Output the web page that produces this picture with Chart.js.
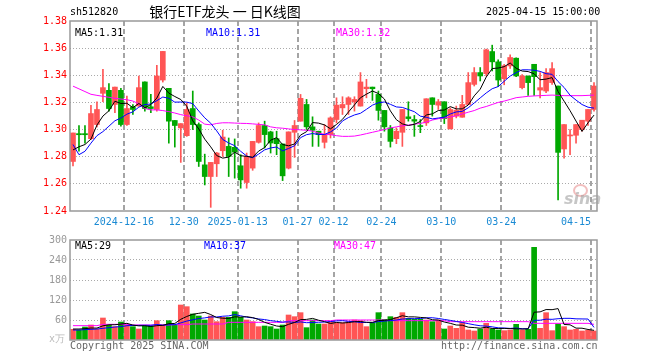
<!DOCTYPE html>
<html>
<head>
<meta charset="utf-8">
<script src="https://cdn.jsdelivr.net/npm/chart.js@4.4.1/dist/chart.umd.min.js"></script>
<style>
  body { margin: 0; background: #fff; width: 660px; height: 360px; overflow: hidden; position: relative; }
  .t { position: absolute; white-space: nowrap; font-family: "DejaVu Sans Mono", monospace; font-size: 10px; line-height: 12px; color: #000; }
  canvas { position: absolute; left: 0; }
  #priceChart { top: 0; }
  #volChart { top: 230px; }
  .eye { position: absolute; left: 573px; top: 184px; width: 11px; height: 9px; border: 2px solid rgba(225,110,110,0.45); border-radius: 50%; }
</style>
</head>
<body>
<canvas id="priceChart" width="660" height="230"></canvas>
<canvas id="volChart" width="660" height="130"></canvas>

<div class="t" style="left:70px;top:6px">sh512820</div>
<div class="t" style="left:140px;top:3px;width:170px;text-align:center;font-family:'Noto Sans CJK SC',sans-serif;font-size:14px;line-height:17px">银行ETF龙头 一 日K线图</div>
<div class="t" style="left:486px;top:6px">2025-04-15 15:00:00</div>

<div class="t" style="left:75px;top:27px">MA5:1.31</div>
<div class="t" style="left:206px;top:27px;color:#0000ff">MA10:1.31</div>
<div class="t" style="left:336px;top:27px;color:#ff00ff">MA30:1.32</div>

<div class="t" style="left:75px;top:240px">MA5:29</div>
<div class="t" style="left:204px;top:240px;color:#0000ff">MA10:37</div>
<div class="t" style="left:334px;top:240px;color:#ff00ff">MA30:47</div>

<div class="t" style="left:49px;top:333px;color:#bbb">x万</div>
<div class="t" style="left:70px;top:340px;color:#666">Copyright 2025 SINA.COM</div>
<div class="t" style="left:441px;top:340px;color:#666">http://finance.sina.com.cn</div>
<div class="eye"></div>
<div class="t" style="left:564px;top:193px;font-family:'DejaVu Sans',sans-serif;font-size:16px;font-weight:bold;font-style:italic;color:rgba(160,160,160,0.6)">sina</div>

<script>
const UP = '#ff5555';
const DOWN = '#00a800';

const dates = [
  '2024-12-03','2024-12-04','2024-12-05','2024-12-06','2024-12-09','2024-12-10','2024-12-11','2024-12-12','2024-12-13',
  '2024-12-16','2024-12-17','2024-12-18','2024-12-19','2024-12-20','2024-12-23','2024-12-24','2024-12-25','2024-12-26','2024-12-27',
  '2024-12-30','2024-12-31','2025-01-02','2025-01-03','2025-01-06','2025-01-07','2025-01-08','2025-01-09','2025-01-10',
  '2025-01-13','2025-01-14','2025-01-15','2025-01-16','2025-01-17','2025-01-20','2025-01-21','2025-01-22','2025-01-23','2025-01-24',
  '2025-01-27','2025-02-05','2025-02-06','2025-02-07','2025-02-10','2025-02-11',
  '2025-02-12','2025-02-13','2025-02-14','2025-02-17','2025-02-18','2025-02-19','2025-02-20','2025-02-21',
  '2025-02-24','2025-02-25','2025-02-26','2025-02-27','2025-02-28','2025-03-03','2025-03-04','2025-03-05','2025-03-06','2025-03-07',
  '2025-03-10','2025-03-11','2025-03-12','2025-03-13','2025-03-14','2025-03-17','2025-03-18','2025-03-19','2025-03-20','2025-03-21',
  '2025-03-24','2025-03-25','2025-03-26','2025-03-27','2025-03-28','2025-03-31','2025-04-01','2025-04-02','2025-04-03',
  '2025-04-07','2025-04-08','2025-04-09','2025-04-10','2025-04-11','2025-04-14','2025-04-15'
];

const tickDates = ['2024-12-16','2024-12-30','2025-01-13','2025-01-27','2025-02-12','2025-02-24','2025-03-10','2025-03-24','2025-04-15'];
const tickText = ['2024-12-16','12-30','2025-01-13','01-27','02-12','02-24','03-10','03-24','04-15'];

const opens = [
  1.2765,1.2970,1.2970,1.2933,1.3037,1.3267,1.3289,1.3185,1.3289,1.3037,
  1.3168,1.3173,1.3351,1.3168,1.3148,1.3365,1.3304,1.3067,1.3012,1.2955,
  1.3155,1.3037,1.2740,1.2654,1.2748,1.2844,1.2876,1.2869,1.2733,1.2610,
  1.2716,1.2906,1.3030,1.2983,1.2933,1.2894,1.2716,1.2980,1.3062,1.3185,
  1.3020,1.2988,1.2906,1.2963,1.3074,1.3160,1.3185,1.3205,1.3173,1.3301,
  1.3313,1.3259,1.3141,1.3012,1.2933,1.2980,1.3094,1.3074,1.3028,1.3049,
  1.3234,1.3180,1.3205,1.3005,1.3099,1.3091,1.3185,1.3333,1.3420,1.3412,
  1.3575,1.3499,1.3375,1.3469,1.3526,1.3309,1.3395,1.3481,1.3291,1.3284,
  1.3346,1.3321,1.2857,1.2953,1.2958,1.3000,1.3062,1.3148
];
const highs = [
  1.2975,1.3030,1.3030,1.3178,1.3205,1.3444,1.3338,1.3313,1.3304,1.3247,
  1.3185,1.3395,1.3351,1.3259,1.3474,1.3576,1.3304,1.3067,1.3044,1.3197,
  1.3284,1.3049,1.2819,1.2758,1.2832,1.2995,1.2938,1.2931,1.2815,1.2827,
  1.2913,1.3049,1.3062,1.2988,1.2988,1.2894,1.2983,1.3067,1.3259,1.3222,
  1.3094,1.2988,1.3037,1.3094,1.3234,1.3242,1.3242,1.3242,1.3420,1.3370,
  1.3313,1.3284,1.3141,1.3030,1.3012,1.3148,1.3205,1.3104,1.3074,1.3227,
  1.3234,1.3222,1.3205,1.3160,1.3173,1.3252,1.3420,1.3457,1.3457,1.3593,
  1.3622,1.3514,1.3480,1.3550,1.3528,1.3405,1.3395,1.3481,1.3420,1.3450,
  1.3494,1.3321,1.3037,1.3000,1.3037,1.3069,1.3148,1.3346
];
const lows = [
  1.2733,1.2840,1.2900,1.2926,1.3020,1.3205,1.3136,1.3124,1.3025,1.3030,
  1.3111,1.3173,1.3136,1.3124,1.3136,1.3350,1.2900,1.2871,1.2758,1.2950,
  1.3000,1.2728,1.2592,1.2427,1.2654,1.2802,1.2654,1.2642,1.2568,1.2568,
  1.2700,1.2900,1.2864,1.2827,1.2815,1.2624,1.2710,1.2795,1.3062,1.3000,
  1.2876,1.2876,1.2864,1.2938,1.3049,1.3111,1.3111,1.3136,1.3173,1.3234,
  1.3215,1.3069,1.2988,1.2871,1.2896,1.2876,1.3062,1.2950,1.2977,1.3030,
  1.3099,1.3148,1.3044,1.3005,1.3086,1.3091,1.3185,1.3321,1.3358,1.3395,
  1.3432,1.3316,1.3330,1.3450,1.3390,1.3300,1.3252,1.3252,1.3234,1.3271,
  1.3333,1.2481,1.2790,1.2815,1.2900,1.2988,1.3030,1.3136
];
const closes = [
  1.2975,1.2962,1.2962,1.3118,1.3148,1.3309,1.3155,1.3313,1.3037,1.3155,
  1.3148,1.3309,1.3155,1.3155,1.3395,1.3576,1.3062,1.3030,1.3044,1.3148,
  1.3037,1.2765,1.2654,1.2758,1.2827,1.2945,1.2802,1.2834,1.2629,1.2802,
  1.2913,1.3030,1.2963,1.2901,1.2896,1.2659,1.2983,1.3030,1.3230,1.3020,
  1.2995,1.2963,1.2963,1.3086,1.3180,1.3185,1.3234,1.3222,1.3351,1.3313,
  1.3301,1.3141,1.3020,1.2913,1.2988,1.3148,1.3081,1.3062,1.3022,1.3227,
  1.3185,1.3205,1.3081,1.3148,1.3143,1.3185,1.3346,1.3420,1.3395,1.3588,
  1.3499,1.3365,1.3470,1.3531,1.3395,1.3395,1.3346,1.3390,1.3309,1.3420,
  1.3449,1.2832,1.3037,1.2958,1.3037,1.3069,1.3148,1.3321
];
// volume, in 10k lots
const volumes = [
  32,30,39,45,33,66,45,40,54,45,
  40,33,42,42,58,45,58,45,105,100,
  78,72,60,72,55,68,68,85,68,60,
  55,40,42,40,33,45,75,70,82,37,
  60,48,48,55,52,52,55,60,58,40,
  52,82,62,70,68,82,65,62,62,60,
  55,60,33,42,35,52,30,27,33,50,
  33,30,28,30,47,30,32,278,35,82,
  28,48,40,30,32,27,29,27
];

const ma5Head = [1.2850,1.2873,1.2890,1.2930];
const ma10Head = [1.2890,1.2815,1.2840,1.2900,1.2955,1.2985,1.3025,1.3065,1.3085];
const ma30 = [
  1.3320,1.3300,1.3280,1.3260,1.3252,1.3245,1.3238,1.3230,1.3225,1.3220,
  1.3210,1.3190,1.3155,1.3145,1.3145,1.3140,1.3132,1.3122,1.3110,1.3102,
  1.3094,1.3070,1.3040,1.3035,1.3045,1.3050,1.3050,1.3048,1.3046,1.3045,
  1.3042,1.3038,1.3035,1.3020,1.3013,1.3010,1.3005,1.3000,1.2998,1.2995,
  1.2988,1.2975,1.2965,1.2962,1.2955,1.2950,1.2950,1.2952,1.2960,1.2970,
  1.2980,1.2990,1.3000,1.3012,1.3020,1.3028,1.3033,1.3040,1.3045,1.3055,
  1.3070,1.3080,1.3085,1.3092,1.3102,1.3115,1.3128,1.3140,1.3158,1.3170,
  1.3185,1.3200,1.3210,1.3222,1.3235,1.3240,1.3245,1.3248,1.3250,1.3252,
  1.3254,1.3252,1.3250,1.3250,1.3250,1.3250,1.3252,1.3254
];
const volMa5Head = [33,33,34,36];
const volMa10Head = [30,30,31,32,33,35,37,39,40];
const volMa30 = [
  43,43,43,43,43,47,47,47,47,47,
  45,45,45,45,45,45,45,46,46,46,
  48,48,48,48,48,48,53,53,53,53,
  53,53,53,53,53,53,58,58,58,58,
  58,58,58,58,60,60,60,60,60,60,
  60,60,60,58,58,58,58,58,58,58,
  58,58,58,55,55,55,55,55,55,55,
  55,55,55,55,55,55,55,50,50,50,
  50,50,50,50,50,50,50,47
];

function movingAvg(arr, n, head) {
  return arr.map((v, i) => {
    if (i < head.length) return head[i];
    let s = 0;
    for (let k = i - n + 1; k <= i; k++) s += arr[k];
    return s / n;
  });
}

const candleColors = closes.map((c, i) => c >= opens[i] ? UP : DOWN);
const tickIdx = tickDates.map(d => dates.indexOf(d));
const MONO = 'DejaVu Sans Mono';

// dashed date lines, grey frame, and the date labels under the price chart
const framePlugin = {
  id: 'frame',
  beforeDatasetsDraw(chart) {
    const { ctx, chartArea: a } = chart;
    const x = chart.scales.x;
    const half = (x.getPixelForValue(1) - x.getPixelForValue(0)) / 2;
    ctx.save();
    ctx.fillStyle = '#a4a4a4';
    for (const idx of tickIdx) {
      const px = Math.round(x.getPixelForValue(idx) - half) - 1;
      // 5px dash, 3px gap
      for (let yy = a.top; yy < a.bottom; yy += 8) {
        ctx.fillRect(px, yy, 2, Math.min(5, a.bottom - yy));
      }
    }
    ctx.restore();
  },
  afterDraw(chart, args, opts) {
    const { ctx, chartArea: a } = chart;
    const x = chart.scales.x;
    const half = (x.getPixelForValue(1) - x.getPixelForValue(0)) / 2;
    ctx.save();
    ctx.strokeStyle = '#999';
    ctx.lineWidth = 1.5;
    ctx.strokeRect(a.left, a.top, a.right - a.left, a.bottom - a.top);
    if (opts.labels) {
      ctx.font = '10px "' + MONO + '"';
      ctx.fillStyle = '#1a8ad4';
      ctx.textBaseline = 'middle';
      tickIdx.forEach((idx, k) => {
        const px = x.getPixelForValue(idx) - half;
        ctx.textAlign = k === tickIdx.length - 1 ? 'right' : 'center';
        ctx.fillText(tickText[k], px, a.bottom + 11);
      });
    }
    ctx.restore();
  }
};

function xAxis(h) {
  return {
    offset: true,
    afterFit(s) { s.height = h; },
    ticks: { display: false, autoSkip: false },
    grid: { display: false },
    border: { display: false }
  };
}

function yAxis(min, max, step, color, fmt) {
  return {
    min, max,
    afterFit(s) { s.width = 70; },
    ticks: { stepSize: step, color, padding: 3, font: { family: MONO, size: 10 }, callback: fmt },
    grid: {
      drawTicks: false,
      color: c => (Math.abs(c.tick.value - min) < 1e-6 || Math.abs(c.tick.value - max) < 1e-6) ? 'transparent' : '#aaa'
    },
    border: { display: false, dash: [1, 2] }
  };
}

function maLine(data, color, order) {
  return { type: 'line', data, borderColor: color, borderWidth: 1, pointRadius: 0, tension: 0, order };
}

new Chart(document.getElementById('priceChart'), {
  type: 'bar',
  data: {
    labels: dates,
    datasets: [
      maLine(movingAvg(closes, 5, ma5Head), '#000000', 0),
      maLine(movingAvg(closes, 10, ma10Head), '#0000ff', 0),
      maLine(ma30, '#ff00ff', 0),
      {
        data: opens.map((o, i) => [o, closes[i]]),
        backgroundColor: candleColors,
        barThickness: 5, grouped: false, minBarLength: 1, order: 2
      },
      {
        data: lows.map((l, i) => [l, highs[i]]),
        backgroundColor: candleColors,
        barThickness: 1, grouped: false, order: 3
      }
    ]
  },
  options: {
    responsive: false,
    animation: false,
    layout: { padding: { left: 0, top: 21, right: 63, bottom: 0 } },
    plugins: { legend: { display: false }, tooltip: { enabled: false }, frame: { labels: true } },
    scales: {
      x: xAxis(19),
      y: yAxis(1.24, 1.38, 0.02, '#ff0000', v => v.toFixed(2))
    }
  },
  plugins: [framePlugin]
});

new Chart(document.getElementById('volChart'), {
  type: 'bar',
  data: {
    labels: dates,
    datasets: [
      maLine(movingAvg(volumes, 5, volMa5Head), '#000000', 0),
      maLine(movingAvg(volumes, 10, volMa10Head), '#0000ff', 0),
      maLine(volMa30, '#ff00ff', 0),
      {
        data: volumes,
        backgroundColor: candleColors,
        barThickness: 5, grouped: false, order: 2
      }
    ]
  },
  options: {
    responsive: false,
    animation: false,
    layout: { padding: { left: 0, top: 10, right: 63, bottom: 0 } },
    plugins: { legend: { display: false }, tooltip: { enabled: false }, frame: { labels: false } },
    scales: {
      x: xAxis(20),
      y: yAxis(0, 300, 60, '#999999', v => v === 0 ? '' : v)
    }
  },
  plugins: [framePlugin]
});
</script>
</body>
</html>
